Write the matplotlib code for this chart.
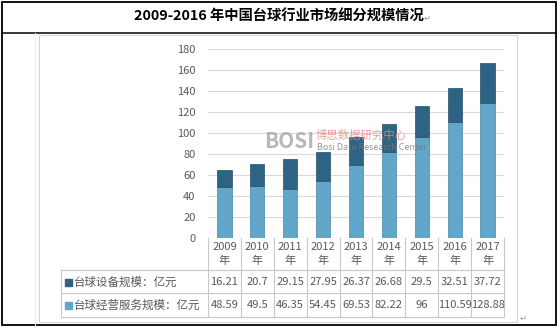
import numpy as np
import matplotlib
matplotlib.use("Agg")
from matplotlib import pyplot as plt
from matplotlib import transforms
from matplotlib.lines import Line2D
from matplotlib.patches import Rectangle

plt.rcParams['font.family'] = ['Noto Sans CJK SC', 'DejaVu Sans']

#=================================    DATA    ====================================
years = ["2009", "2010", "2011", "2012", "2013", "2014", "2015", "2016", "2017"]
shebei = [16.21, 20.7, 29.15, 27.95, 26.37, 26.68, 29.5, 32.51, 37.72]       # 台球设备规模
jingying = [48.59, 49.5, 46.35, 54.45, 69.53, 82.22, 96, 110.59, 128.88]   # 台球经营服务规模
label_shebei = "台球设备规模：亿元"
label_jingying = "台球经营服务规模：亿元"
title = "2009-2016 年中国台球行业市场细分规模情况"

#=================================    LAYOUT    ==================================
W, H = 557, 327
def fx(x): return x / W
def fy(y): return 1 - y / H

c_light = "#62a6ca"
c_dark = "#2e6384"
c_text = "#595959"
c_grid = "#d9d9d9"
c_tab = "#c8c8c8"

fig = plt.figure(figsize=(W / 100, H / 100), dpi=100)

# outer frame + title row
fig.add_artist(Rectangle((fx(1.5), fy(325)), (554.5) / W, (323.5) / H, fill=False,
                         edgecolor="black", lw=1.3, transform=fig.transFigure))
fig.add_artist(Line2D([fx(1.5), fx(556)], [fy(33), fy(33)], color="black", lw=1.1))
fig.text(fx(279), fy(17), title, ha="center", va="center", fontsize=10.3, weight="bold")
fig.text(fx(424), fy(18), "↵", ha="left", va="center", fontsize=6, color="#999999",
         family=["DejaVu Sans"])

# chart frame
fig.add_artist(Rectangle((fx(39), fy(322)), (517 - 39) / W, (322 - 35) / H, fill=False,
                         edgecolor="#d4d4d4", lw=0.8, transform=fig.transFigure))
fig.add_artist(Line2D([fx(35), fx(35)], [fy(33), fy(325)], color="#eeeeee", lw=0.8))
fig.text(fx(520), fy(318), "↵", ha="left", va="center", fontsize=6, color="#999999",
         family=["DejaVu Sans"])

#=================================    BARS    ====================================
ax = fig.add_axes([fx(208), fy(238), (504 - 208) / W, (238 - 49.3) / H])
x = np.arange(len(years))
ax.bar(x, jingying, width=0.43, color=c_light, edgecolor="#4a86a8", lw=0.5, zorder=3)
ax.bar(x, shebei, width=0.43, bottom=jingying, color=c_dark, edgecolor="#24506c", lw=0.5, zorder=3)
ax.set_xlim(-0.5, len(years) - 0.5)
ax.set_ylim(0, 180)
ax.set_yticks(range(0, 181, 20))
ax.set_xticks([])
ax.tick_params(axis="y", length=0, pad=9, labelsize=8, labelcolor=c_text)
ax.yaxis.grid(True, color=c_grid, lw=0.8)
ax.set_axisbelow(True)
for s in ax.spines.values():
    s.set_visible(False)

# watermark
fig.text(fx(264), fy(141), "BOSI", fontsize=15, weight="bold", color="#9a9a9a", alpha=0.7,
         ha="left", va="center", zorder=10)
fig.text(fx(316), fy(135), "博思数据研究中心", fontsize=8.2, color="#e08a8a", alpha=0.8,
         ha="left", va="center", zorder=10)
fig.text(fx(317), fy(147.5), "Bosi Data Research Center", fontsize=6.4, color="#7a7a7a", alpha=0.8,
         ha="left", va="center", zorder=10)

#=================================    TABLE    ===================================
bt = transforms.blended_transform_factory(ax.transData, fig.transFigure)
for i in range(len(years) + 1):
    fig.add_artist(Line2D([i - 0.5, i - 0.5], [fy(238), fy(317)], color=c_tab, lw=0.8, transform=bt))
fig.add_artist(Line2D([fx(61), fx(61)], [fy(270), fy(317)], color=c_tab, lw=0.8))
for yy in [270, 293, 317]:
    fig.add_artist(Line2D([fx(61), fx(504)], [fy(yy), fy(yy)], color=c_tab, lw=0.8))

for i, yr in enumerate(years):
    fig.text(i, fy(254), yr + "\n年", transform=bt, ha="center", va="center",
             fontsize=8, color=c_text, linespacing=1.5)
    fig.text(i, fy(282), f"{shebei[i]:g}", transform=bt, ha="center", va="center",
             fontsize=8, color=c_text)
    fig.text(i, fy(305.5), f"{jingying[i]:g}", transform=bt, ha="center", va="center",
             fontsize=8, color=c_text)

for yy, col, lab in [(282, c_dark, label_shebei), (305.5, c_light, label_jingying)]:
    fig.add_artist(Rectangle((fx(64.5), fy(yy + 3.5)), 7 / W, 7 / H, color=col,
                             transform=fig.transFigure))
    fig.text(fx(74), fy(yy), lab, ha="left", va="center", fontsize=8.3, color=c_text)

fig.savefig("out.png", dpi=100)
